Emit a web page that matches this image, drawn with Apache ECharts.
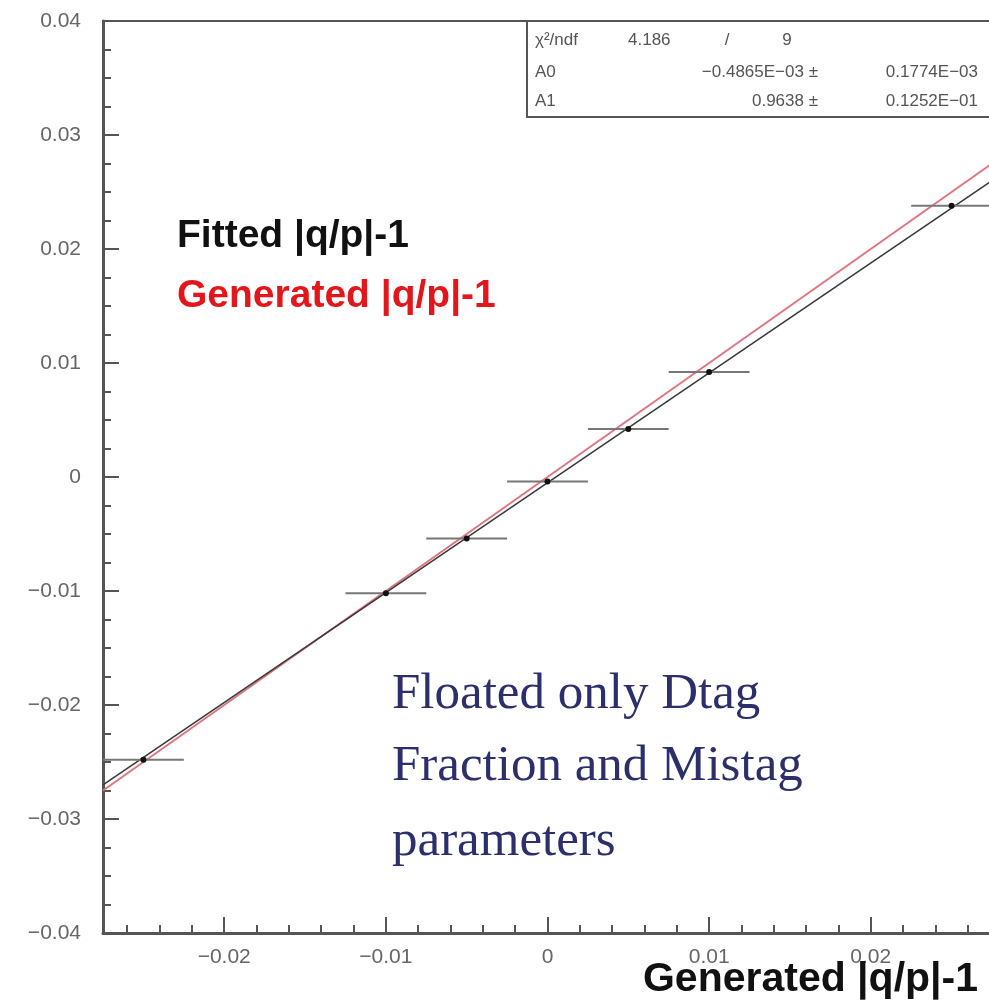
<!DOCTYPE html>
<html>
<head>
<meta charset="utf-8">
<script src="https://cdn.jsdelivr.net/npm/echarts@6/dist/echarts.min.js"></script>
<style>html,body{margin:0;padding:0;background:#fff;overflow:hidden;}#c{width:995px;height:1008px;}</style>
</head>
<body>
<div id="c"></div>
<script>
// ---- data ----
var xGen = [-0.025, -0.01, -0.005, 0, 0.005, 0.01, 0.025];
var yFit = [-0.0248, -0.0102, -0.0054, -0.0004, 0.0042, 0.0092, 0.0238];
var xErr = [0.0025, 0.0025, 0.0025, 0.0025, 0.0025, 0.0025, 0.0025];
var lineX = [-0.0275, 0.0275];
var fitLineY = [-0.0270, 0.0260];
var genLineY = [-0.0275, 0.0275];
var xMajorTicks = [-0.02, -0.01, 0, 0.01, 0.02];
var xMinorTicks = [-0.026, -0.024, -0.022, -0.018, -0.016, -0.014, -0.012, -0.008, -0.006, -0.004, -0.002,
                   0.002, 0.004, 0.006, 0.008, 0.012, 0.014, 0.016, 0.018, 0.022, 0.024, 0.026];
var statNames = ['A0', 'A1'];
var statValues = ['\u22120.4865E\u221203 \u00b1', '0.9638 \u00b1'];
var statErrors = ['0.1774E\u221203', '0.1252E\u221201'];
var chiText = ['4.186', '/', '9'];

var chart = echarts.init(document.getElementById('c'), null, {renderer: 'canvas'});

function fmt(v) {
  if (Math.abs(v) < 1e-9) return '0';
  return v.toFixed(2).replace('-', '\u2212');
}

var ptData = xGen.map(function (x, i) { return [x, yFit[i], xErr[i]]; });
var fitData = lineX.map(function (x, i) { return [x, fitLineY[i]]; });
var genData = lineX.map(function (x, i) { return [x, genLineY[i]]; });

var tickFont = {fontFamily: 'Liberation Sans', fontSize: 21, color: '#666'};
var statFont = '17px "Liberation Sans"';

var graphics = [
  {type: 'rect', shape: {x: 527, y: 21, width: 480, height: 96},
   style: {fill: '#fff', stroke: '#555', lineWidth: 2}, z: 100},
  {type: 'text', x: 535, y: 40, z: 101, style: {text: '\u03c7\u00b2/ndf', font: statFont, fill: '#555', verticalAlign: 'middle'}},
  {type: 'text', x: 628, y: 40, z: 101, style: {text: chiText[0], font: statFont, fill: '#555', verticalAlign: 'middle'}},
  {type: 'text', x: 727, y: 40, z: 101, style: {text: chiText[1], font: statFont, fill: '#555', verticalAlign: 'middle', align: 'center'}},
  {type: 'text', x: 787, y: 40, z: 101, style: {text: chiText[2], font: statFont, fill: '#555', verticalAlign: 'middle', align: 'center'}}
];
statNames.forEach(function (n, i) {
  var yy = 72 + i * 29;
  graphics.push({type: 'text', x: 535, y: yy, z: 101, style: {text: n, font: statFont, fill: '#555', verticalAlign: 'middle'}});
  graphics.push({type: 'text', x: 818, y: yy, z: 101, style: {text: statValues[i], font: statFont, fill: '#555', verticalAlign: 'middle', align: 'right'}});
  graphics.push({type: 'text', x: 978, y: yy, z: 101, style: {text: statErrors[i], font: statFont, fill: '#555', verticalAlign: 'middle', align: 'right'}});
});
graphics.push(
  {type: 'text', x: 177, y: 236, z: 101, style: {text: 'Fitted |q/p|-1', font: 'bold 39px "Liberation Sans"', fill: '#111', verticalAlign: 'middle'}},
  {type: 'text', x: 177, y: 296, z: 101, style: {text: 'Generated |q/p|-1', font: 'bold 39px "Liberation Sans"', fill: '#e3161c', verticalAlign: 'middle'}},
  {type: 'text', x: 978, y: 980, z: 101, style: {text: 'Generated |q/p|-1', font: 'bold 41px "Liberation Sans"', fill: '#111', verticalAlign: 'middle', align: 'right'}},
  {type: 'text', x: 392, y: 695, z: 101, style: {text: 'Floated only Dtag', font: '51px "Liberation Serif"', fill: '#2d2f6c', verticalAlign: 'middle'}},
  {type: 'text', x: 392, y: 767, z: 101, style: {text: 'Fraction and Mistag', font: '51px "Liberation Serif"', fill: '#2d2f6c', verticalAlign: 'middle'}},
  {type: 'text', x: 392, y: 842, z: 101, style: {text: 'parameters', font: '51px "Liberation Serif"', fill: '#2d2f6c', verticalAlign: 'middle'}}
);

var option = {
  animation: false,
  backgroundColor: '#fff',
  grid: {left: 103, right: 3, top: 21, bottom: 75, outerBoundsMode: 'none', show: true, borderColor: '#555', borderWidth: 2, backgroundColor: 'transparent'},
  xAxis: [
    {type: 'value', min: -0.0275, max: 0.0275, position: 'bottom',
     axisLine: {show: true, onZero: false, lineStyle: {color: '#555', width: 3}},
     axisTick: {show: true, inside: true, length: 16, customValues: xMajorTicks, lineStyle: {color: '#555', width: 2}},
     axisLabel: {show: true, customValues: xMajorTicks, margin: 14, formatter: fmt,
                 fontFamily: tickFont.fontFamily, fontSize: tickFont.fontSize, color: tickFont.color},
     splitLine: {show: false}},
    {type: 'value', min: -0.0275, max: 0.0275, position: 'bottom',
     axisLine: {show: false, onZero: false},
     axisTick: {show: true, inside: true, length: 8, customValues: xMinorTicks, lineStyle: {color: '#555', width: 2}},
     axisLabel: {show: false}, splitLine: {show: false}}
  ],
  yAxis: {type: 'value', min: -0.04, max: 0.04, interval: 0.01,
    axisLine: {show: true, onZero: false, lineStyle: {color: '#555', width: 3}},
    axisTick: {show: true, inside: true, length: 16, lineStyle: {color: '#555', width: 2}},
    minorTick: {show: true, splitNumber: 4, length: 8, lineStyle: {color: '#555', width: 2}},
    axisLabel: {margin: 22, formatter: fmt, fontFamily: tickFont.fontFamily, fontSize: tickFont.fontSize, color: tickFont.color},
    splitLine: {show: false}, minorSplitLine: {show: false}},
  series: [
    {type: 'line', data: genData, showSymbol: false, lineStyle: {color: '#e07480', width: 2}, z: 3},
    {type: 'line', data: fitData, showSymbol: false, lineStyle: {color: '#3a3a3a', width: 1.6}, z: 4},
    {type: 'custom', data: ptData, z: 5, clip: false,
     renderItem: function (params, api) {
       var x = api.value(0), y = api.value(1), e = api.value(2);
       var p1 = api.coord([x - e, y]), p2 = api.coord([x + e, y]), c = api.coord([x, y]);
       return {type: 'group', children: [
         {type: 'line', shape: {x1: p1[0], y1: p1[1], x2: p2[0], y2: p2[1]}, style: {stroke: '#777', lineWidth: 2}},
         {type: 'circle', shape: {cx: c[0], cy: c[1], r: 3}, style: {fill: '#111'}}
       ]};
     }}
  ],
  graphic: graphics
};
chart.setOption(option);
</script>
</body>
</html>
